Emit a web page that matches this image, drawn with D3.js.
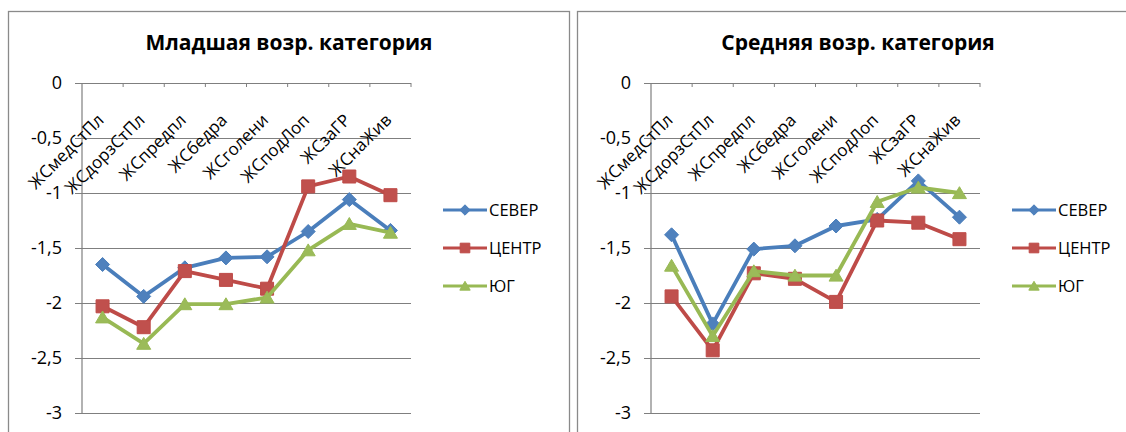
<!DOCTYPE html>
<html>
<head>
<meta charset="utf-8">
<script src="https://cdn.jsdelivr.net/npm/d3@7"></script>
<style>
  html, body { margin: 0; padding: 0; background: #fff; }
  svg { display: block; }
  text { font-family: "Open Sans", "Noto Sans", sans-serif; fill: #000; }
</style>
</head>
<body>
<svg id="chart" width="1126" height="432"></svg>
<script>
// Skinfold sites (category axis)
const categories = ["ЖСмедСтПл", "ЖСдорзСтПл", "ЖСпредпл", "ЖСбедра", "ЖСголени", "ЖСподЛоп", "ЖСзаГР", "ЖСнаЖив"];
const seriesNames = ["СЕВЕР", "ЦЕНТР", "ЮГ"];

// Младшая возрастная категория
const youngNorth  = [-1.65, -1.94, -1.68, -1.59, -1.58, -1.35, -1.06, -1.34];
const youngCenter = [-2.03, -2.22, -1.71, -1.79, -1.87, -0.94, -0.85, -1.02];
const youngSouth  = [-2.13, -2.37, -2.01, -2.01, -1.95, -1.52, -1.28, -1.36];

// Средняя возрастная категория
const midNorth  = [-1.38, -2.19, -1.51, -1.48, -1.30, -1.24, -0.89, -1.22];
const midCenter = [-1.94, -2.43, -1.73, -1.78, -1.99, -1.25, -1.27, -1.42];
const midSouth  = [-1.66, -2.30, -1.71, -1.75, -1.75, -1.08, -0.95, -1.00];

const yTicks = [0, -0.5, -1, -1.5, -2, -2.5, -3];
const yTickLabels = ["0", "-0,5", "-1", "-1,5", "-2", "-2,5", "-3"];

const titles = ["Младшая возр. категория", "Средняя возр. категория"];

const lineColors   = ["#4A7EBB", "#BE4B48", "#98B954"];
const markerColors = ["#4F81BD", "#C0504D", "#9BBB59"];

// Marker shapes: diamond, square, triangle (centred in their box)
const diamond = { draw(ctx, size) { const r = Math.sqrt(size) / 2; ctx.moveTo(0, -r); ctx.lineTo(r, 0); ctx.lineTo(0, r); ctx.lineTo(-r, 0); ctx.closePath(); } };
const square = { draw(ctx, size) { const r = Math.sqrt(size) / 2; ctx.rect(-r, -r, 2 * r, 2 * r); } };
const triangle = { draw(ctx, size) { const r = Math.sqrt(size) / 2; ctx.moveTo(0, -r * 0.9); ctx.lineTo(r, r * 0.8); ctx.lineTo(-r, r * 0.8); ctx.closePath(); } };
const markerTypes = [diamond, square, triangle];
const markerSizes = [14 * 14, 13 * 13, 14 * 14];

const svg = d3.select("#chart");

function drawPanel(frameX, title, seriesValues) {
  const g = svg.append("g");
  const plotLeft = frameX + 74, plotRight = frameX + 403;
  const plotTop = 83, plotBottom = 413;

  // chart frame
  g.append("rect")
    .attr("x", frameX + 0.5).attr("y", 11.5)
    .attr("width", 561).attr("height", 480)
    .attr("fill", "#fff").attr("stroke", "#8a8a8a").attr("stroke-width", 1.3);

  const x = d3.scaleBand().domain(categories).range([plotLeft, plotRight]).padding(0);
  const y = d3.scaleLinear().domain([-3, 0]).range([plotBottom, plotTop]);
  const cx = c => x(c) + x.bandwidth() / 2;

  // value axis with horizontal gridlines
  const yAxis = d3.axisLeft(y)
    .tickValues(yTicks)
    .tickSize(-(plotRight - plotLeft + 7))
    .tickPadding(13)
    .tickFormat((d, i) => yTickLabels[i]);
  const ya = g.append("g").attr("transform", `translate(${plotLeft - 7},0)`).call(yAxis);
  ya.select(".domain").remove();
  ya.selectAll(".tick line").attr("stroke", "#7f7f7f").attr("stroke-width", 1);
  ya.selectAll(".tick text")
    .attr("font-size", 18).attr("font-family", "Open Sans").attr("fill", "#111");

  // vertical axis line
  g.append("line")
    .attr("x1", plotLeft).attr("x2", plotLeft)
    .attr("y1", plotTop).attr("y2", plotBottom)
    .attr("stroke", "#7f7f7f").attr("stroke-width", 1.2);

  // category tick marks at band boundaries
  const bounds = categories.map(c => x(c)).concat([x.range()[1]]).slice(1);
  g.selectAll(".ctick").data(bounds).enter().append("line")
    .attr("x1", d => d).attr("x2", d => d)
    .attr("y1", plotTop).attr("y2", plotTop + 4)
    .attr("stroke", "#7f7f7f").attr("stroke-width", 1);

  // category labels, rotated
  const xAxis = d3.axisBottom(x).tickSize(0).tickPadding(0);
  const xa = g.append("g").attr("transform", `translate(0,${plotTop})`).call(xAxis);
  xa.select(".domain").remove();
  xa.selectAll(".tick text")
    .attr("font-size", 17).attr("font-family", "Open Sans").attr("fill", "#111")
    .attr("text-anchor", "end")
    .attr("y", 0).attr("dy", "0.35em")
    .attr("transform", "translate(-2,34) rotate(-45)");

  // title
  g.append("text")
    .attr("x", frameX + 281).attr("y", 50)
    .attr("text-anchor", "middle")
    .attr("font-size", 21).attr("font-weight", "bold")
    .text(title);

  // series lines and markers
  seriesValues.forEach((vals, si) => {
    const pts = categories.map((c, i) => [cx(c), y(vals[i])]);
    g.append("path")
      .attr("d", d3.line()(pts))
      .attr("fill", "none")
      .attr("stroke", lineColors[si])
      .attr("stroke-width", 3.8)
      .attr("stroke-linejoin", "round");
    g.selectAll(".m" + si).data(pts).enter().append("path")
      .attr("transform", d => `translate(${d[0]},${d[1]})`)
      .attr("d", d3.symbol().type(markerTypes[si]).size(markerSizes[si])())
      .attr("fill", markerColors[si])
      .attr("stroke", lineColors[si])
      .attr("stroke-width", 1);
  });

  // legend
  const legendX = frameX + 435;
  const legendY = [210, 248, 286];
  seriesNames.forEach((name, si) => {
    const ly = legendY[si];
    g.append("line")
      .attr("x1", legendX).attr("x2", legendX + 44)
      .attr("y1", ly).attr("y2", ly)
      .attr("stroke", lineColors[si]).attr("stroke-width", 2.8);
    g.append("path")
      .attr("transform", `translate(${legendX + 22},${ly})`)
      .attr("d", d3.symbol().type(markerTypes[si]).size(markerSizes[si] * 0.55)())
      .attr("fill", markerColors[si]).attr("stroke", lineColors[si]).attr("stroke-width", 1);
    g.append("text")
      .attr("x", legendX + 46).attr("y", ly)
      .attr("dy", "0.35em")
      .attr("font-size", 16.5)
      .text(name);
  });
}

drawPanel(8, titles[0], [youngNorth, youngCenter, youngSouth]);
drawPanel(577, titles[1], [midNorth, midCenter, midSouth]);
</script>
</body>
</html>
